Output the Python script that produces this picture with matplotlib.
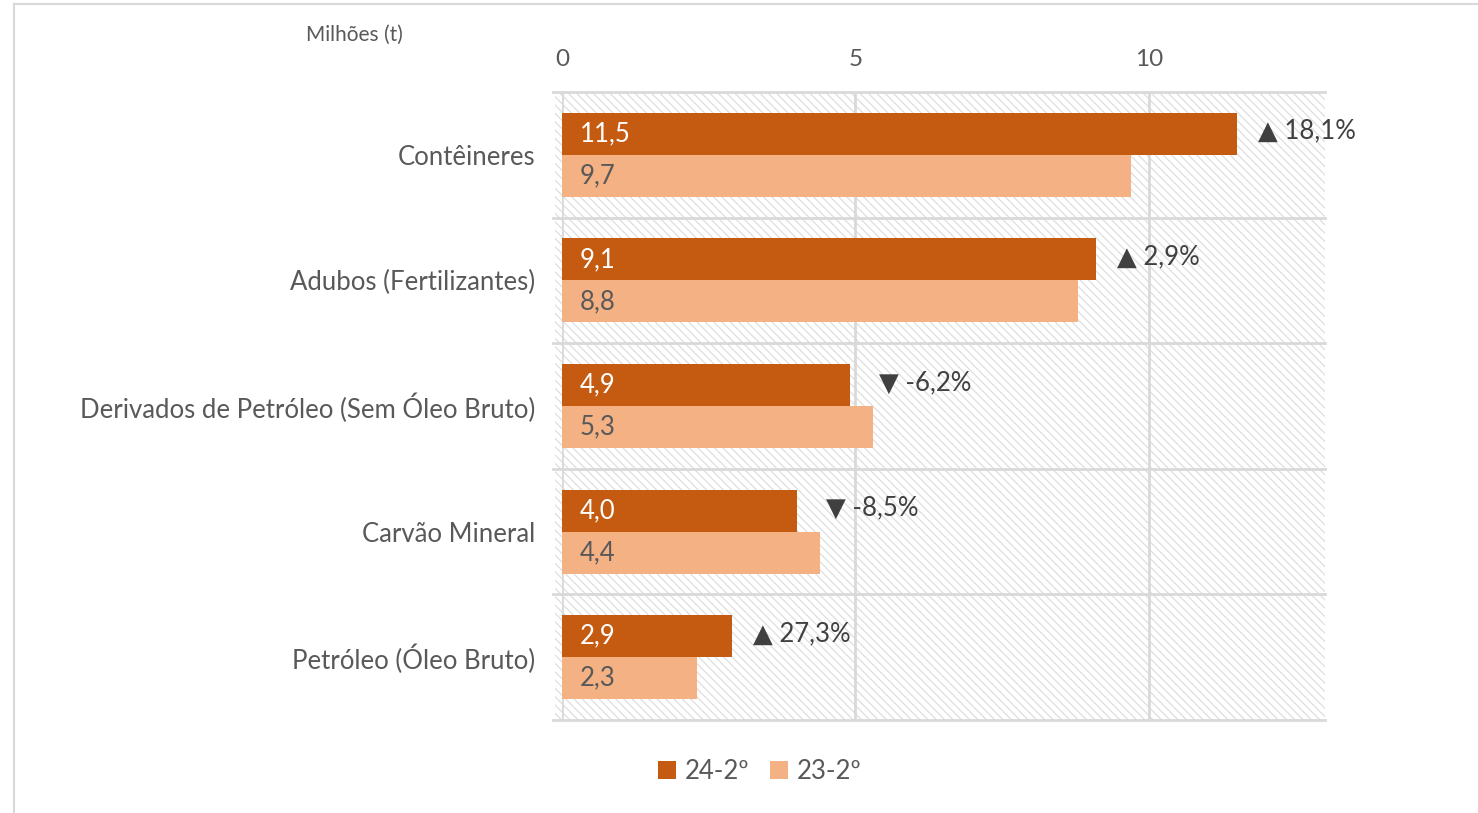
import matplotlib
matplotlib.use("Agg")
import matplotlib.pyplot as plt
from matplotlib.patches import Rectangle
from matplotlib.lines import Line2D
import numpy as np

plt.rcParams['font.family'] = ['Lato', 'DejaVu Sans']
plt.rcParams['hatch.linewidth'] = 0.9
plt.rcParams['hatch.color'] = '#dedede'

# dados
categorias = ["Contêineres", "Adubos (Fertilizantes)", "Derivados de Petróleo (Sem Óleo Bruto)",
              "Carvão Mineral", "Petróleo (Óleo Bruto)"]
v24 = [11.5, 9.1, 4.9, 4.0, 2.9]
v23 = [9.7, 8.8, 5.3, 4.4, 2.3]
variacao = ["18,1%", "2,9%", "-6,2%", "-8,5%", "27,3%"]
series = ["24-2º", "23-2º"]
ticks = [0, 5, 10]

cor_escura = '#C55A11'
cor_clara = '#F4B183'
cinza_txt = '#595959'
cinza_grade = '#d9d9d9'

fig = plt.figure(figsize=(14.78, 8.13), dpi=100)
ax = fig.add_axes([562/1478, 1-720/813, (1325-562)/1478, (720-92)/813])

# moldura externa
fig.add_artist(Line2D([14/1478, 14/1478], [0, 1-4/813], color='#d9d9d9', lw=1.5))
fig.add_artist(Line2D([14/1478, 1], [1-4/813, 1-4/813], color='#d9d9d9', lw=1.5))

# fundo hachurado
ax.add_patch(Rectangle((-0.12, -0.5), 13.12, len(categorias), facecolor='white',
                       edgecolor='#dedede', hatch='\\\\\\\\', lw=0, zorder=0, clip_on=False))

y = np.arange(len(categorias))
h = 0.335
ax.barh(y - h/2, v24, height=h, color=cor_escura, zorder=3, label=series[0])
ax.barh(y + h/2, v23, height=h, color=cor_clara, zorder=3, label=series[1])

for i in range(len(categorias)):
    ax.text(0.3, y[i] - h/2, f"{v24[i]:.1f}".replace('.', ','), color='white',
            va='center', ha='left', fontsize=18.5, zorder=4)
    ax.text(0.3, y[i] + h/2, f"{v23[i]:.1f}".replace('.', ','), color=cinza_txt,
            va='center', ha='left', fontsize=18.5, zorder=4)
    seta = "▼" if variacao[i].startswith('-') else "▲"
    xpos = max(v24[i] + 0.36, v23[i] + 0.1)
    ax.text(xpos, y[i] - h/2 - 0.02, seta + " " + variacao[i],
            color='#404040', va='center', ha='left', fontsize=18.5, zorder=4)

# grade
for t in ticks:
    ax.axvline(t, color=cinza_grade, lw=2, zorder=1)
for k in range(len(categorias) + 1):
    ax.plot([-0.15, 13], [k - 0.5, k - 0.5], color=cinza_grade, lw=2, zorder=1, clip_on=False)

ax.set_xlim(0, 13)
ax.set_ylim(len(categorias) - 0.5, -0.5)
ax.set_yticks(y)
ax.set_yticklabels(categorias, fontsize=18.5, color=cinza_txt)
ax.set_xticks(ticks)
ax.set_xticklabels([str(t) for t in ticks], fontsize=17.5, color=cinza_txt)
ax.xaxis.tick_top()
ax.tick_params(axis='x', length=0, pad=16)
ax.tick_params(axis='y', length=0, pad=19)
for s in ax.spines.values():
    s.set_visible(False)

fig.text(354/1478, 1-35/813, "Milhões (t)", fontsize=15, color=cinza_txt, ha='center', va='center')

leg = ax.legend(loc='center', bbox_to_anchor=(760/1478, 1-771/813), bbox_transform=fig.transFigure,
                ncol=2, frameon=False, fontsize=18.5, handlelength=0.7, handleheight=0.7,
                handletextpad=0.35, columnspacing=0.8, borderaxespad=0)
for t in leg.get_texts():
    t.set_color(cinza_txt)

fig.savefig("out.png", dpi=100)
